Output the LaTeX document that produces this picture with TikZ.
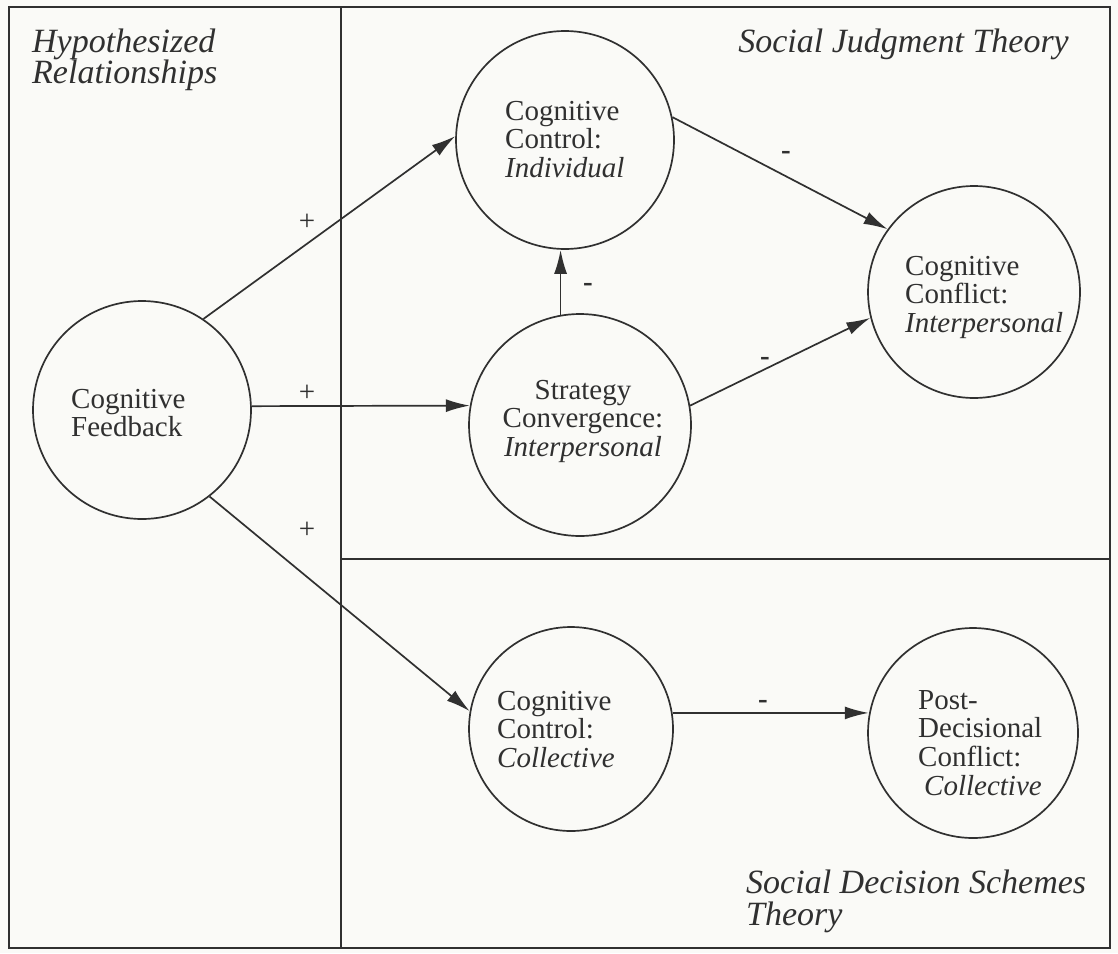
\documentclass[tikz,border=0pt]{standalone}
\usepackage{fontspec}
\setmainfont{Liberation Serif}
\usetikzlibrary{arrows.meta}

\definecolor{ink}{RGB}{48,48,48}
\definecolor{paper}{RGB}{250,250,247}

% multi-line label whose baseline is that of its first line
\newcommand{\stack}[2][l]{\begin{tabular}[t]{@{}#1@{}}#2\end{tabular}}

\begin{document}
\begin{tikzpicture}[x=1pt, y=-1pt,
  rule/.style={draw=ink, line width=1.7pt},
  circ/.style={circle, draw=ink, line width=1.7pt, inner sep=0pt},
  arr/.style={draw=ink, line width=1.7pt, -{Latex[length=24pt,width=13pt]}},
  txt/.style={inner sep=0pt, text=ink, anchor=base west,
              font=\fontsize{29}{28.5}\selectfont},
  head/.style={inner sep=0pt, text=ink, anchor=base west,
               font=\fontsize{34}{28}\selectfont\itshape},
  sign/.style={inner sep=0pt, text=ink, font=\fontsize{29}{29}\selectfont}]

  % page and panel frame
  \fill[paper] (0,0) rectangle (1118,953);
  \useasboundingbox (0,0) rectangle (1118,953);
  \draw[rule] (9,7) rectangle (1110,948);
  \draw[rule] (341,7) -- (341,948);
  \draw[rule] (341,559) -- (1110,559);

  % panel headings
  \node[head] (hHyp) at (32,52) {\stack{Hypothesized\\Relationships}};
  \node[head, anchor=base east] (hSJT) at (1069,52) {Social Judgment Theory};
  \node[head] (hSDS) at (746,893) {\stack{Social Decision Schemes\\Theory}};

  % constructs
  \node[circ, minimum size=218pt] (fb)   at (142,410) {};
  \node[circ, minimum size=218pt] (ind)  at (565,140) {};
  \node[circ, minimum size=222pt] (str)  at (580,425) {};
  \node[circ, minimum size=212pt] (con)  at (974,292) {};
  \node[circ, minimum size=204pt] (col)  at (571,729) {};
  \node[circ, minimum size=210pt] (post) at (973,733) {};

  \node[txt] (fbT)   at (71,408)  {\stack{Cognitive\\Feedback}};
  \node[txt] (indT)  at (505,120) {\stack{Cognitive\\Control:\\\textit{Individual}}};
  \node[txt, anchor=base] (strT) at (583,399) {\stack[c]{Strategy\\Convergence:\\\textit{Interpersonal}}};
  \node[txt] (conT)  at (905,275) {\stack{Cognitive\\Conflict:\\\textit{Interpersonal}}};
  \node[txt] (colT)  at (497,710) {\stack{Cognitive\\Control:\\\textit{Collective}}};
  \node[txt] (postT) at (918,709) {\stack{Post-\\Decisional\\Conflict:\\\hspace{6pt}\textit{Collective}}};

  % hypothesized links
  \draw[arr] (fb.56) -- (ind.178);
  \draw[arr] (fb.2) -- (str.170);
  \draw[arr] (fb.-52) -- (col.170);
  \draw[arr] (str.100) -- (str.100 |- ind.south);
  \draw[arr] (ind.12) -- (con.144);
  \draw[arr] (str.10) -- (con.194);
  \draw[arr] (col.9) -- (col.9 -| post.170);

  % signs of the links
  \node[sign] (s1) at (307,222) {+};
  \node[sign] (s2) at (307,393) {+};
  \node[sign] (s3) at (307,530) {+};
  \node[sign] (s4) at (786,155) {\textbf{-}};
  \node[sign] (s5) at (588,287) {\textbf{-}};
  \node[sign] (s6) at (765,361) {\textbf{-}};
  \node[sign] (s7) at (763,704) {\textbf{-}};
\end{tikzpicture}
\end{document}
